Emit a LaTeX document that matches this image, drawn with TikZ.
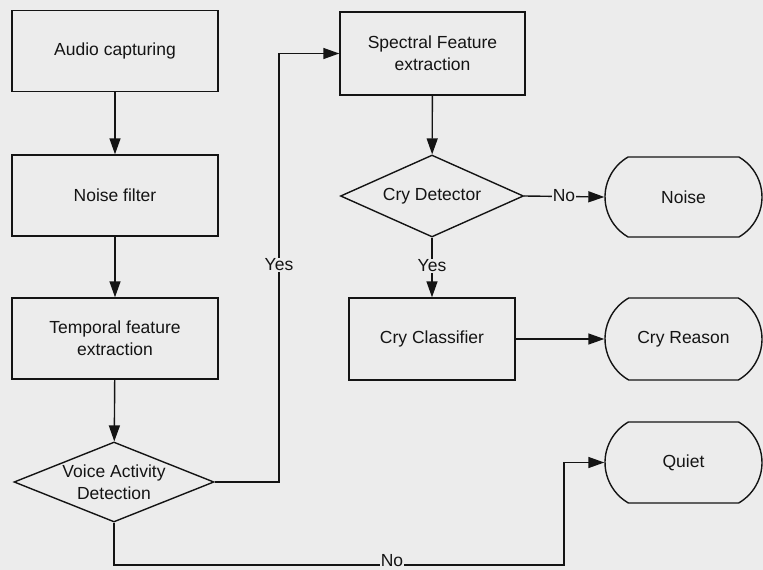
\documentclass[tikz,border=0pt]{standalone}
\usepackage{fontspec}
\setmainfont{Liberation Sans}
\usetikzlibrary{shapes.geometric,shapes.misc,arrows.meta}
\definecolor{bg}{RGB}{236,236,236}
\definecolor{ink}{RGB}{20,20,20}
\begin{document}
\begin{tikzpicture}[x=1pt,y=-1pt,
  font=\fontsize{17.5}{22}\selectfont,
  every node/.style={text=ink},
  box/.style={draw=ink,line width=1.4pt,fill=bg,rectangle,inner sep=0pt,align=center},
  dia/.style={draw=ink,line width=1.4pt,fill=bg,diamond,inner sep=0pt},
  term/.style={draw=ink,line width=1.4pt,fill=bg,rounded rectangle,rounded rectangle arc length=120,inner sep=0pt,minimum width=157pt},
  arr/.style={draw=ink,line width=1.4pt,-{Triangle[length=16pt,width=11pt]}},
  lbl/.style={fill=bg,inner sep=0.5pt}]
\fill[bg] (0,0) rectangle (763,570);
\useasboundingbox (0,0) rectangle (763,570);
% left column
\node[box,minimum width=206pt,minimum height=81pt] (audio) at (115,51) {Audio capturing};
\node[box,minimum width=206pt,minimum height=81pt] (nfilt) at (115,195.5) {Noise filter};
\node[box,minimum width=206pt,minimum height=81pt] (temp) at (115,338.5) {Temporal feature\\extraction};
\node[dia,minimum width=200pt,minimum height=80pt] (vad) at (114,482) {};
\node[align=center,inner sep=0pt] (vadt) at (vad.center) {Voice Activity\\Detection};
% middle column
\node[box,minimum width=185pt,minimum height=83pt] (spec) at (432.5,53.5) {Spectral Feature\\extraction};
\node[dia,minimum width=183pt,minimum height=82pt] (det) at (432,196) {};
\node[inner sep=0pt] (dett) at (det.center) {Cry Detector};
\node[box,minimum width=166pt,minimum height=82pt] (cls) at (432,339) {Cry Classifier};
% right column
\node[term,minimum height=80pt] (noise) at (683.5,197) {Noise};
\node[term,minimum height=82pt] (reason) at (683.5,339) {Cry Reason};
\node[term,minimum height=81pt] (quiet) at (683.5,462.5) {Quiet};
% helper coordinates
\coordinate (yb) at (279,53.5);
\coordinate (nb) at (564,565);
% connectors
\draw[arr] (audio) -- (nfilt);
\draw[arr] (nfilt) -- (temp);
\draw[arr] (temp) -- (vad);
\draw[arr] (vad.east) -| (yb) -- (spec.west);
\node[lbl] (yes1) at (279,265) {Yes};
\draw[arr] (spec) -- (det);
\draw[arr] (det.east) -- (noise.west);
\node[lbl] (no1) at (564,196) {No};
\draw[arr] (det.south) -- (cls.north);
\node[lbl] (yes2) at (432,266) {Yes};
\draw[arr] (cls.east) -- (reason.west);
\draw[arr] (vad.south) |- (nb) |- (quiet.west);
\node[lbl] (no2) at (392,561) {No};
\end{tikzpicture}
\end{document}
